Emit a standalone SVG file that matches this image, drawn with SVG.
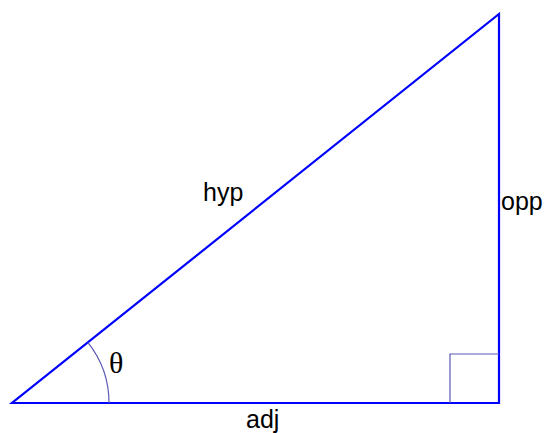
<svg xmlns="http://www.w3.org/2000/svg" width="549" height="433" viewBox="0 0 549 433">
<style>
.side{fill:none;stroke:#0000ff;stroke-width:2.2;stroke-linejoin:miter}
.mark{fill:none;stroke:#5a5ab4;stroke-width:1.2}
.lbl{font-family:"Liberation Sans",Arial,sans-serif;font-size:25px;fill:#000}
.sym{font-family:"Liberation Serif","Times New Roman",serif;font-size:30px;fill:#000}
</style>
<rect width="549" height="433" fill="#fff"/>
<g id="connectors">
<path class="side" d="M12,403 L499,403 L499,14 Z"/>
</g>
<g id="angle">
<path class="mark" d="M109,403 A97,97 0 0 0 87.8,342.4"/>
<text class="sym" x="109" y="373">θ</text>
</g>
<g id="right-angle">
<path class="mark" d="M450,403 L450,354 L499,354"/>
</g>
<g id="hyp"><text class="lbl" x="203" y="201">hyp</text></g>
<g id="opp"><text class="lbl" x="501" y="210">opp</text></g>
<g id="adj"><text class="lbl" x="246" y="428">adj</text></g>
</svg>
